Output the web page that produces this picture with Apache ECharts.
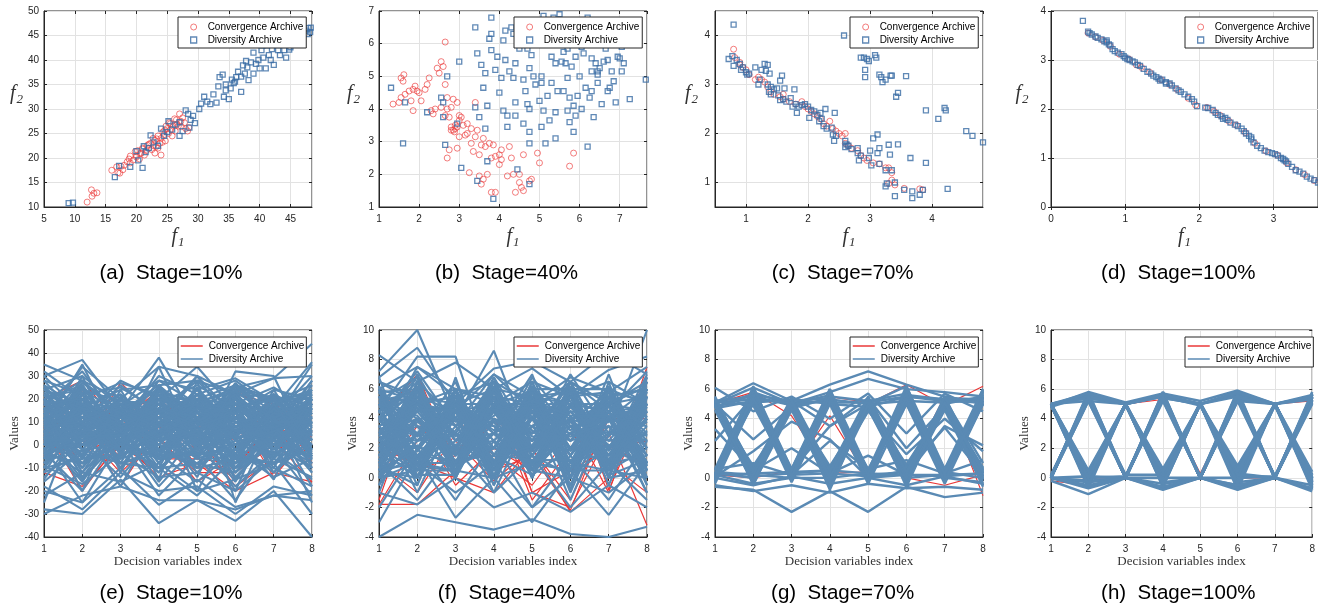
<!DOCTYPE html>
<html>
<head>
<meta charset="utf-8">
<script src="https://cdn.jsdelivr.net/npm/echarts@6.0.0/dist/echarts.min.js"></script>
<style>
html,body{margin:0;padding:0;background:#fff;}
#chart{width:1318px;height:605px;}
</style>
</head>
<body>
<div id="chart"></div>
<script>
// ---------- objective-space samples [f1, f2] ----------
const convA = [[12,11],[12.7,13.5],[12.8,12.2],[13.1,12.8],[13.6,12.9],[16,17.5],[16.8,18.2],[17,17],[17.3,16.9],[17.5,18.3],[18,18.5],[18.5,19.2],[19,20.4],[19,19],[19.5,19.6],[20,20.5],[20.2,21.5],[20.5,19.8],[20.8,21],[21,22],[21.3,20.6],[21.6,21.5],[22,22],[22.3,23],[22.5,21.7],[22.8,22.5],[23,23.6],[23.2,22.3],[23.5,24.5],[23.8,23],[24,20.6],[24,24],[24.3,25.3],[24.5,24.8],[24.7,23.5],[25,26],[25.2,25],[25.5,27],[25.8,24.5],[26,26.5],[26.3,25.5],[26.5,27.8],[26.8,26.5],[27,29],[27.2,27.5],[27.5,28.2],[27.8,27.2],[28,26],[28.3,25.5],[28.5,26.2],[23,21],[23.5,22],[22,22.8],[21,21.8],[20,20.2],[24.8,26.5],[25.3,27.2],[26.2,28],[22.7,24],[19.8,21.3],[18.8,19.8],[21.8,22.6],[24.2,23.2],[25.6,25.8],[26.6,26.9],[27.3,26.4],[24.6,25.7],[23.3,23.9],[20.6,20.9],[17.8,17.6]];
const divA = [[9,10.8],[9.7,10.9],[16.5,16.1],[17.2,18.4],[19,18.2],[20,21.4],[20.3,19.5],[21,18],[21.2,22.4],[21.5,21.2],[22,22],[22.3,24.6],[22.8,23.2],[23.5,22.5],[24,26],[24.5,24.5],[25,25.3],[25.2,27.5],[25.8,25.8],[26.3,26.8],[27,24.5],[27,27.3],[27.5,25.5],[28,29.7],[28.4,29],[28.6,26.2],[29.2,28.6],[29.5,27.1],[28.8,27.8],[30.2,30],[30.5,31.1],[31,32.5],[31.5,31.5],[32,31],[32.5,33],[33,31.3],[33.3,34.6],[33.5,36.5],[34,37],[34.2,32.5],[34.5,35],[35,32],[35.3,34.2],[35.5,36],[35.8,35.3],[36.2,36.5],[36.5,37.6],[37,36.6],[37,33.5],[37.3,38.9],[37.6,37.2],[37.8,39.8],[38,38.5],[38.2,35.9],[38.6,39.5],[39,37.2],[39,41.5],[39.4,39.2],[39.8,40],[40,38.3],[40.3,42],[40.6,40.5],[41,38.3],[41.2,43],[41.5,41],[41.8,40],[42,42.2],[42.3,39],[42.7,44],[43,42],[43.3,41],[43.8,43.2],[44,42],[44.3,40.5],[44.8,42.1],[45,42.6],[47.6,46],[47.9,46.5],[48.2,45.7],[48.3,46.6],[47.8,45.3],[40.5,43],[42,43.3],[36,35.6],[34.5,33.8]];

const convB = [[1.35,4.15],[1.5,4.2],[1.55,4.95],[1.6,4.85],[1.62,5.05],[1.55,4.35],[1.65,4.45],[1.8,4.25],[1.75,4.55],[1.85,4.6],[1.9,4.7],[1.85,3.95],[2.0,4.5],[2.05,4.25],[2.2,4.75],[2.25,4.95],[2.3,3.95],[2.35,3.85],[2.4,4.0],[2.45,5.25],[2.5,5.1],[2.55,5.45],[2.6,5.3],[2.65,6.05],[2.65,4.75],[2.7,4.0],[2.7,4.35],[2.75,3.75],[2.7,2.5],[2.75,2.75],[2.8,4.05],[2.85,3.35],[2.9,3.4],[2.95,3.45],[2.85,4.3],[2.95,4.2],[3.0,3.8],[3.05,3.75],[2.95,2.8],[3.0,3.15],[3.1,3.5],[3.2,3.25],[3.25,2.05],[3.3,2.95],[3.35,2.7],[3.4,3.15],[3.45,3.35],[3.5,1.95],[3.5,2.6],[3.55,1.7],[3.6,1.85],[3.6,3.1],[3.65,2.85],[3.7,2.0],[3.8,1.45],[3.8,2.5],[3.85,2.9],[3.9,2.55],[4.0,2.3],[4.0,2.6],[4.05,2.75],[4.2,1.95],[4.25,2.85],[4.3,2.5],[4.35,2.0],[4.4,1.45],[4.5,1.75],[4.5,2.0],[4.55,1.6],[4.6,1.5],[4.6,2.6],[4.75,1.8],[4.8,1.85],[4.95,2.65],[5.0,2.35],[5.75,2.25],[5.85,2.65],[3.4,4.2],[3.2,3.55],[3.0,3.65],[2.8,3.35],[2.9,3.5],[3.3,3.4],[3.55,2.9],[3.75,2.95],[2.15,4.6],[2.55,4.05],[1.95,4.55],[2.8,3.45],[2.88,3.3],[3.15,3.2],[3.9,1.45],[4.05,2.45],[2.65,3.8]];
const divB = [[1.3,4.65],[1.65,4.2],[1.6,2.95],[2.2,3.9],[2.55,4.35],[2.6,4.2],[2.6,3.75],[2.65,2.9],[2.7,5.0],[2.95,3.55],[3.0,5.45],[3.05,2.2],[3.4,6.5],[3.4,4.05],[3.45,5.7],[3.5,3.75],[3.45,1.8],[3.55,5.35],[3.6,4.65],[3.65,5.1],[3.65,3.4],[3.7,4.1],[3.7,2.4],[3.75,6.15],[3.8,6.8],[3.8,6.3],[3.8,5.8],[3.85,1.25],[3.9,5.2],[3.95,5.6],[4.0,4.5],[4.05,4.95],[4.1,6.1],[4.1,3.95],[4.15,6.4],[4.15,5.5],[4.2,3.8],[4.2,3.45],[4.25,5.15],[4.3,6.5],[4.35,6.3],[4.35,4.95],[4.4,5.4],[4.4,4.2],[4.4,3.8],[4.45,2.15],[4.5,5.85],[4.6,4.9],[4.6,3.55],[4.65,4.55],[4.7,5.85],[4.7,4.15],[4.75,5.25],[4.75,3.3],[4.75,2.95],[4.75,4.0],[4.75,1.7],[4.8,5.65],[4.85,5.0],[4.9,4.75],[5.0,4.25],[5.05,5.0],[5.05,4.8],[5.05,3.45],[5.1,3.95],[5.15,2.95],[5.2,4.4],[5.25,3.65],[5.3,5.6],[5.3,4.8],[5.35,6.8],[5.4,5.4],[5.4,3.9],[5.45,4.55],[5.4,3.1],[5.55,5.45],[5.6,5.75],[5.6,4.55],[5.65,5.4],[5.7,4.95],[5.7,3.95],[5.75,4.35],[5.75,3.6],[5.8,5.3],[5.85,4.1],[5.85,3.3],[5.9,5.6],[5.95,4.4],[6.0,5.0],[6.05,4.0],[6.05,5.9],[6.1,5.7],[6.15,4.65],[6.2,6.8],[6.25,4.35],[6.3,5.55],[6.3,5.15],[6.3,4.55],[6.35,3.75],[6.4,5.4],[6.45,5.05],[6.45,4.8],[6.5,5.25],[6.55,4.15],[6.6,5.45],[6.65,5.85],[6.7,5.5],[6.75,4.65],[6.8,5.15],[6.85,4.85],[6.9,4.2],[6.95,5.6],[7.0,5.55],[7.05,5.15],[7.05,5.9],[7.1,5.4],[7.25,4.3],[7.65,4.9],[6.2,2.85],[5.9,3.8],[5.5,6.9],[5.1,6.85],[6.1,6.5],[5.0,6.5],[4.9,6.2],[6.7,4.55],[6.45,5.15],[5.7,5.85]];

const convC = [[0.8,3.72],[0.82,3.55],[0.9,3.45],[0.95,3.35],[1.0,3.3],[1.05,3.2],[1.2,3.15],[1.25,3.1],[1.3,3.05],[1.35,2.95],[1.4,2.85],[1.45,2.8],[1.55,2.75],[1.6,2.7],[1.7,2.65],[1.8,2.6],[1.9,2.65],[1.95,2.55],[2.0,2.5],[2.05,2.45],[2.1,2.4],[2.15,2.35],[2.2,2.3],[2.25,2.2],[2.3,2.15],[2.35,2.25],[2.4,2.1],[2.45,2.05],[2.5,2.0],[2.55,1.95],[2.6,1.8],[2.65,1.75],[2.7,1.7],[2.8,1.65],[2.85,1.55],[2.9,1.5],[2.95,1.45],[3.05,1.4],[3.15,1.38],[3.25,1.3],[3.3,1.3],[3.35,1.2],[3.35,1.05],[3.3,0.98],[3.4,0.95],[3.55,0.88],[3.8,0.87],[3.85,0.85],[1.6,2.8],[2.6,2.0],[0.9,3.4],[1.15,3.1]];
const divC = [[0.8,4.22],[0.72,3.52],[0.78,3.58],[0.8,3.38],[0.85,3.5],[0.9,3.42],[0.92,3.3],[0.95,3.35],[1.0,3.25],[1.02,3.2],[1.05,3.22],[1.15,3.35],[1.2,3.0],[1.22,3.1],[1.25,3.3],[1.3,3.42],[1.32,3.28],[1.35,3.4],[1.35,3.0],[1.37,2.85],[1.38,3.22],[1.4,2.95],[1.4,2.8],[1.45,2.9],[1.5,2.92],[1.52,2.78],[1.55,3.08],[1.55,2.68],[1.58,3.18],[1.6,2.7],[1.62,2.92],[1.65,2.65],[1.72,2.72],[1.75,2.55],[1.78,2.9],[1.8,2.6],[1.82,2.42],[1.85,2.55],[1.9,2.58],[1.95,2.6],[2.0,2.55],[2.02,2.32],[2.05,2.48],[2.1,2.45],[2.15,2.38],[2.18,2.25],[2.2,2.42],[2.22,2.3],[2.25,2.15],[2.28,2.5],[2.3,2.1],[2.38,2.12],[2.4,1.98],[2.42,1.85],[2.43,2.42],[2.45,1.95],[2.6,1.72],[2.6,1.85],[2.62,1.78],[2.65,1.75],[2.7,1.68],[2.8,1.7],[2.8,1.6],[2.82,1.45],[2.85,3.55],[2.85,1.55],[2.9,3.55],[2.92,3.3],[2.92,3.15],[2.95,3.52],[2.98,1.5],[2.98,3.48],[3.0,1.65],[3.02,1.35],[3.05,1.9],[3.08,3.6],[3.1,3.55],[3.12,1.98],[3.12,1.6],[3.15,1.7],[3.15,1.38],[3.15,3.2],[3.18,3.15],[3.2,3.05],[3.25,3.1],[3.25,1.25],[3.25,0.92],[3.27,0.98],[3.3,1.77],[3.32,1.57],[3.33,3.18],[3.35,3.18],[3.35,1.25],[3.4,1.0],[3.4,0.72],[3.42,2.75],[3.45,2.83],[3.45,1.78],[3.55,0.85],[3.58,3.17],[3.65,1.5],[3.68,0.82],[3.68,0.68],[3.8,0.75],[3.85,0.85],[3.9,1.4],[3.9,2.47],[4.1,2.3],[4.2,2.52],[4.22,2.47],[4.25,0.87],[4.55,2.05],[4.65,1.95],[4.82,1.82],[2.58,4.0]];

const convD = [[0.5,3.55],[0.6,3.47],[0.7,3.4],[0.8,3.28],[0.92,3.12],[1.05,3.02],[1.15,2.9],[1.22,2.85],[1.33,2.75],[1.48,2.6],[1.6,2.5],[1.7,2.4],[1.85,2.22],[1.95,2.08],[2.1,2.03],[2.2,1.95],[2.28,1.87],[2.4,1.75],[2.5,1.67],[2.62,1.52],[2.75,1.3],[2.9,1.14],[3.05,1.06],[3.18,0.9],[3.3,0.76],[3.42,0.66],[3.55,0.54]];
const divD = [[0.43,3.8],[0.5,3.58],[0.52,3.55],[0.55,3.52],[0.6,3.48],[0.63,3.45],[0.68,3.42],[0.72,3.38],[0.75,3.36],[0.78,3.32],[0.8,3.3],[0.83,3.22],[0.86,3.18],[0.9,3.15],[0.95,3.12],[0.98,3.08],[1.0,3.05],[1.03,3.02],[1.06,3.0],[1.1,2.97],[1.13,2.95],[1.17,2.9],[1.2,2.88],[1.25,2.82],[1.3,2.76],[1.35,2.72],[1.38,2.68],[1.42,2.65],[1.45,2.62],[1.5,2.6],[1.55,2.55],[1.6,2.52],[1.63,2.48],[1.68,2.42],[1.72,2.38],[1.75,2.35],[1.8,2.3],[1.85,2.25],[1.9,2.2],[1.93,2.15],[1.97,2.06],[2.08,2.03],[2.12,2.02],[2.18,1.98],[2.22,1.92],[2.25,1.88],[2.3,1.85],[2.35,1.82],[2.38,1.78],[2.42,1.72],[2.48,1.68],[2.52,1.65],[2.57,1.6],[2.6,1.55],[2.63,1.5],[2.67,1.45],[2.7,1.38],[2.73,1.32],[2.78,1.25],[2.83,1.2],[2.88,1.15],[2.93,1.12],[2.98,1.1],[3.02,1.08],[3.06,1.05],[3.1,1.0],[3.13,0.98],[3.17,0.93],[3.2,0.88],[3.25,0.82],[3.3,0.75],[3.35,0.72],[3.4,0.68],[3.45,0.62],[3.5,0.58],[3.55,0.55],[3.6,0.5],[1.47,2.58],[2.7,1.42],[3.15,0.95],[0.75,3.4],[1.55,2.52],[2.32,1.8]];

// ---------- decision-space samples: one row of 8 variables per solution ----------
const varIndex = [1, 2, 3, 4, 5, 6, 7, 8];

const convE = [
  [8,-20,2,-14,-8,-20,-12,-16],[15,14,0,16,-10,-10,10,14],[-5,10,-18,8,-2,-15,5,-10],[20,28,8,20,6,22,18,12],
  [0,-4,5,2,-12,-12,0,4],[10,8,-5,10,4,-18,-6,18],[-12,-18,0,-12,8,6,20,-8],[4,18,12,-6,-6,-8,8,2],
  [12,0,27,12,12,14,-14,6],[-8,6,-12,4,-16,-6,2,-16],[18,-10,10,24,0,24,12,0],[2,24,-8,-2,10,2,16,12]
];
const divE = [
  [35,28,20,12,30,5,18,22],[30,37,15,38,10,25,29,44],[-28,-30,-15,-34,-24,-33,-20,-40],[25,12,28,20,34,15,22,10],
  [-20,-25,-10,-26,-15,-27,-22,-20],[10,20,5,25,0,22,8,15],[5,-10,10,-5,15,-15,5,0],[0,30,-5,26,5,27,10,35],
  [15,-5,20,0,25,-10,15,5],[-10,25,-12,20,-5,18,-8,12],[20,5,15,10,20,0,20,8],[-5,15,0,18,-20,10,0,20],
  [8,35,2,34,-2,32,30,-5],[12,-20,18,-15,28,-25,12,-25],[-15,8,-18,12,-10,5,-15,18],[28,22,25,15,20,26,20,22],
  [2,0,8,5,3,-5,3,5],[-25,18,-8,-10,-22,-5,-10,-18],[18,28,12,25,12,20,5,28],[6,-15,3,-12,8,-20,18,-10],
  [22,10,22,8,30,12,22,2],[-8,5,-2,2,-8,8,-5,10],[3,25,6,28,18,25,12,30],[14,-8,14,-8,12,-12,10,-8],
  [-18,-28,-12,-20,-18,-30,-18,-22],[32,20,27,22,16,18,25,15],[10,12,0,15,6,3,6,12],[-3,-20,5,-18,0,-18,-3,-15],
  [17,32,10,30,22,28,16,36],[0,6,12,-2,10,15,-12,3],[25,-2,18,5,25,2,14,-2],[-12,12,-6,8,-14,20,2,22],
  [7,27,15,24,4,24,20,20],[-22,-12,-16,-8,-20,-15,-8,-30],[12,18,8,12,14,10,9,16],[19,3,21,3,18,-2,18,4],
  [-6,22,2,16,2,12,4,26],[4,-3,6,-2,2,-8,2,-5],[26,16,24,26,28,22,21,12],[-2,9,-10,10,-12,7,-4,6],
  [9,26,4,22,9,26,14,24],[16,-12,13,-10,20,-12,7,-12],[-14,2,-14,6,-6,0,-12,8],[21,24,19,18,26,16,20,18],
  [1,14,0,14,7,14,0,14],[13,-6,16,-3,15,-6,13,-3],[-9,-17,-4,-14,-12,-20,-6,-14],[24,30,17,28,24,29,19,26],
  [6,8,9,4,11,6,11,2],[-30,-22,-18,-24,-24,-28,-22,-24],[11,34,20,34,30,22,29,30],[-4,-8,1,-6,-3,-10,0,-10],
  [30,14,22,6,24,8,17,6],[7,20,4,20,12,18,7,17],[18,2,10,0,16,4,12,10],[-16,-2,-8,-4,-16,-2,-14,-6],
  [3,16,12,12,1,21,4,21],[15,23,7,23,19,23,13,23],[-1,-25,2,-22,-5,-24,-1,-22],[23,7,14,9,22,11,22,9],
  [5,22,-3,20,-2,18,3,20],[18,-2,14,0,17,-4,16,-5],[-3,17,2,24,6,22,8,16],[22,4,20,2,25,6,21,-2],
  [0,20,-8,22,-6,24,-4,18],[14,-10,20,-8,18,-8,10,-12],[-10,10,4,14,-2,16,-6,12],[26,6,18,8,24,4,20,6],
  [4,26,0,20,4,20,6,24],[12,0,16,-4,22,-2,14,2],[-6,18,-4,24,0,20,0,16],[20,-6,24,-2,14,-6,18,-6],
  [2,12,8,16,10,12,4,10],[16,20,6,10,8,24,10,20],[-12,-4,-6,0,-10,-6,-8,-2],[8,2,12,2,4,8,16,0],
  [24,18,10,20,20,14,24,20],[-2,-12,6,-10,4,-14,2,-8],[10,28,14,26,12,22,6,28],[6,-8,0,-4,-4,-2,8,-6],
  [28,10,26,14,28,10,12,14],[-8,20,-10,16,-4,14,-2,20],[12,6,4,8,18,2,14,4],[-4,2,14,-6,8,-10,6,-2],
  [20,26,4,22,14,26,18,24],[3,-16,8,-16,6,-16,10,-18],[16,12,18,4,20,18,0,10],[0,0,2,-6,-4,-4,-8,0],
  [9,16,-2,18,2,20,12,16],[14,-14,8,-12,12,-14,4,-10],
  [12,8,14,6,10,12,8,10],[-4,14,2,10,-6,12,-2,14],[18,12,4,18,14,6,16,8],[6,-4,16,-2,6,-4,10,2],
  [0,10,-6,14,2,16,-2,6],[14,18,10,20,16,18,14,18],[-8,0,6,-2,-8,2,-4,-4],[20,10,16,12,22,8,18,12],
  [2,20,8,2,12,4,2,14],[10,-2,0,12,-4,10,12,-4],[16,4,20,6,8,20,6,16],[-2,16,-4,18,4,8,10,4],
  [8,14,18,4,16,14,-2,20],[4,8,-2,20,0,-6,14,8],[22,16,12,14,18,16,22,14],[-6,6,10,0,-2,4,-6,10],
  [14,2,6,16,12,-2,16,0],[6,24,14,8,20,10,4,22],[-10,-6,0,-10,-8,-12,2,-6],[24,14,6,22,10,20,12,18],
  [0,12,16,10,4,0,6,12],[12,-6,-4,4,14,12,-8,6],[18,20,14,2,6,16,20,2],[-4,4,4,8,18,6,8,-8],
  [8,10,-8,-2,-10,18,0,16],[16,-14,2,-6,-2,-8,18,-4],[2,2,20,14,22,2,-4,20],[10,22,-2,26,-2,26,10,10],
  [20,0,10,-4,10,-4,24,-2],[-2,18,8,16,8,14,-10,18]
];

const convF = [
  [-1.8,-1.8,0.5,4,2,-2.3,0,7.5],[-1.5,6,2,6.5,-1,-2,3,-3.2],[0,3.5,1.8,3.8,1.8,5,2,1],[2,1,0,-1,2.2,4,-1,6.5],
  [4,7,1,5,-1.5,2,2.2,3],[1,-1,3,0.5,1.5,-2.2,4.5,1.5],[3,4,-0.5,2,0.5,6.5,-0.8,5],[-1.8,2.5,4,1.5,-0.5,3,1,-1],
  [5,6,2.5,-0.2,2,-1.5,4,4],[2.5,0.5,1.5,5.5,-1,0.5,2,2.5]
];
const divF = [
  [8.3,6.5,7.8,6.0,7.4,5.5,7.3,8.2],[7.2,10,4.0,8.6,2.0,7.0,3.0,10],[-4,-2.5,-3,-3.5,-2.8,-3.8,-4,-3.3],[6.8,8.8,5.0,7.4,7.9,6.5,8.5,7.0],
  [0.5,6,0.5,6,0.5,6,0.5,6],[5.5,0.5,5.5,0,5.5,0,5.5,0.5],[3,4,1,5,4,3,2,4],[4.5,8.2,8.2,0.5,6.5,1,6,2],
  [1,3,2,2.5,1,4.5,1.5,3],[5,2,4.5,1,6,2,5,1],[2,5.5,3,6.5,0,5.5,2.5,5.5],[-1,-1.8,0,-2,-1,-2.3,-0.5,-2],
  [6,7.5,6,5,6.5,5.5,6.5,5],[0,1,-1,1,-2,0,-1,1],[4,6.5,4,4,3,6.5,5,6.5],[3.5,0,5,3,5,1,4,-1],
  [2.5,4.5,1.5,4,2.5,4,3,4.5],[5.2,6.8,0.2,6.8,0.8,6.2,0.5,6.8],[0.8,-0.5,6.8,-0.5,6.2,-0.8,6.5,-0.5],[1.5,7,2.5,3,7,0.5,7,0.5],
  [4.8,3,6.5,0.5,3.5,5.5,0.5,5],[3.2,5,1,6,1.5,5,1,5.5],[-2,2,-1.5,2.5,-2,1.5,-1.5,2.5],[5.8,2.5,5.8,1.5,5,2.5,6.2,2],
  [2,0.5,3.5,0.5,4,0.5,3.5,0.5],[6.5,5.5,4.5,7,5.5,5.8,5.5,6],[0.3,2.2,0.5,3.8,0.2,3.5,0.8,3.5],[3.8,6,2,5.5,2.5,6.5,2,6],
  [1.2,4.8,0.8,5,1,5,1.2,4.5],[4.2,-1,4.5,-1,4.5,-1.5,4.5,-1],[-3,1.5,-2.7,0,-3,0.5,-2.5,1],[2.8,7.5,5.5,6.5,5,6.8,5.8,7.5],
  [5.5,3.5,3,2,6.8,3.5,4,3.5],[1.8,5.8,2.5,4.5,3.5,4.5,2,5],[0,6.5,1,6.2,0,5.8,0,6.5],[6,0,6,1,6,1.5,6,0],
  [3,2.5,4,3.5,2,3,3.5,2.5],[4.5,1.5,3,0,4,2,4.5,1.5],[2.2,3.5,0,4.8,0.5,4.2,0.2,4.2],[5,5.5,5,6,5.5,5,5,5.5],
  [0.5,1,1,2,1.5,0.2,2,0.8],[3.5,4.5,5,5,3,4.8,2.8,6],[1,-1.5,2,-1,1.5,-2,1,-1.5],[4,7.2,3.5,7,4.5,6.5,4.5,7.2],
  [2.5,2,6,1.5,6,2,6,1.5],[5.5,4,0.5,4.5,0.5,4,0.5,4],[-0.5,3,0.5,3,2.5,3.5,2.5,3],[3,5,3.5,4.5,4,5.5,4,5],
  [6.2,1.8,5.2,2.5,5.2,1,5.2,2.5],[1.5,5.2,2.8,5.8,1.8,6,1.5,6],
  [5.5,0.5,6,0.5,5.5,0.5,6,0.5],[0.5,6.5,0,6,0.5,6.5,0.5,6],[6,1,5,1,6.5,0,5.5,1],[1,5.5,0.5,5.5,0,5,1,5.5],
  [5,-0.5,5.5,0,5,-0.5,5.5,0],[-0.5,6,1,6.5,1,5.5,0,6.5],[4.5,1.5,4.5,1.5,4.5,1.5,4.5,1.5],[1.5,4.5,1.5,4.5,1.5,4.5,1.5,4.5],
  [6.5,5,6,5.5,5,6,6,5],[0,0.5,0.5,0,1,0.5,0.5,0],[5.8,6,0.5,5.8,0.5,0,5.5,6],[0.5,0,5.5,0.5,6,6,0,0.5],
  [3,6,0,6,0,6,0,6],[6,0,6,0,6,0,6,0],[4,0.5,6,1,5,0,4.5,1],[1,5,2,6.5,1.5,5.5,2,6.5],
  [5.2,2,5.5,2,6,1.5,5.5,2.5],[2.5,6,0.5,5,0.5,5,0.5,5],[0.2,1.5,1.2,1.5,0.2,2,1,1.5],[5.5,5,4.5,5,5.8,5,4.5,4.8],
  [6.8,0,5,-0.5,5.5,-1,5,-0.5],[-1,5.5,0,5,0,6,-0.5,5.5],[4,6.8,0.8,6,2,6.2,1,6.8],[2,0,5,0,5.8,0,5.5,0],
  [0.5,5,5.5,1,5.5,1,0.5,5],[5.5,0.8,0.5,5.5,0.5,5.5,5.8,0.8],[3.5,5.2,1,4,0.8,5,0.5,4.5],[5,2.8,5.2,0.8,4.2,0.5,5.8,1],
  [1.2,6.2,2,6.8,2.5,6.5,1.8,7],[6.2,0.5,4,0,4.8,-0.5,4,0.5],
  [4,3,5,2,4,3,5,2],[2,4,1,4,2,5,2,3],[5,2,2,5,5,1,3,5],[1,4,4,1,2,4,5,1],
  [3.5,0.5,2.5,5.5,1.5,5.5,1,4],[0.5,3,5.5,2.5,5.5,2,4.5,1.5],[4.5,5.5,3,0.5,3.5,0.5,5,4.5],[2.5,1,0.5,3,0.5,3.5,0.5,2],
  [5.5,3,4,4.5,5,4,1.5,5.5],[0,2.5,3,1,3.5,2.5,3.5,0],[3,5,5.5,3,0.5,3,5.5,3],[6,3.5,1,5,4,5.5,2,5],
  [1.5,0.5,4.5,2,5.5,1,3,2.5],[4.8,6,2.5,6,3,4.5,4,6],[2.8,2,5,3.5,1,0.5,6,1],[0.8,5,3.5,5.2,2,6,0.8,4.8],
  [5,4.2,1.5,3,4.5,3.8,0.5,3.2],[3.2,0.8,6,0.8,4,0,4.2,0.5],[1.8,6.2,0.8,2,6,2.5,5,6.2],[4.2,1.5,3.2,6.2,0.8,4.8,2.2,3],
  [0.2,4,2.2,4.2,5.8,1.8,4.8,2],[5.8,1.2,4.8,1.2,2.2,5.8,1.2,5.8],[2.2,5.8,0.2,5.8,2.8,2.8,3.8,4.2],[3.8,2.8,5.8,0.2,4.8,5.2,0.2,1.2],
  [6,5.2,3.8,3.8,0.2,3.8,5.8,5.2],[1,3.8,1.8,6,3.2,0.8,2.8,5.8],[4.6,0.2,0.2,4.6,5.2,4.2,4.2,0.8],[2.6,4.6,4.6,1.6,1.2,1.2,1.6,3.8],
  [0.6,1.8,5.2,3.2,6.2,3.2,5.2,2.8],[5.2,5.8,1.6,5.4,1.8,5,0.6,5.4]
];

const convG = [
  [5.0,5.8,4.2,0.2,5.0,6.3,4.9,6.2],[0.2,0.0,0.5,4.2,0.0,0.5,5.5,-1.2],[4.9,0.3,5.0,0.3,0.4,5.6,0.5,5.3],[0.3,5.4,0.1,5.5,5.1,0.0,-0.5,0.2]
];
const divG = [
  [5.1,0.2,5.0,0.1,5.2,0.3,4.9,0.2],[4.9,-0.1,4.8,-0.3,5.0,0.0,5.1,-0.2],[5.0,0.4,5.1,0.5,4.9,0.6,5.0,0.4],[0.1,5.6,0.0,5.4,0.2,5.8,0.1,5.3],
  [-0.2,5.9,0.3,5.2,-0.1,6.1,0.3,5.5],[0.3,5.3,-0.2,5.6,0.3,5.5,-0.3,5.1],[5.2,5.5,4.9,5.3,5.0,5.2,5.1,5.4],[0.0,-0.5,0.1,-0.4,0.0,-0.5,0.1,-0.4],
  [5.0,0.1,0.3,5.5,0.2,0.4,5.2,0.0],[0.2,5.8,4.9,0.0,5.0,6.2,0.1,5.5],[4.8,5.7,0.2,0.3,4.9,0.0,0.2,5.2],[0.4,0.0,5.0,5.6,0.1,5.6,5.3,0.3],
  [5.1,6.4,5.2,6.3,7.2,6.3,5.5,5.0],[5.0,6.1,5.0,5.8,6.7,6.0,5.8,5.5],[-0.6,-0.8,-2.3,-0.9,-2.3,-0.6,-1.3,-1.0],[-0.5,-0.9,-0.5,-1.0,-0.4,-0.7,-0.6,-0.8],
  [6.1,4.5,5.5,4.0,5.7,3.0,5.7,4.5],[3.3,0.5,2.0,0.3,1.5,0.2,3.5,2.2],[5.0,2.6,4.8,0.2,4.5,1.6,4.0,1.8],[0.1,1.8,3.8,2.6,0.0,0.5,3.4,0.2],
  [2.5,5.5,0.5,3.5,5.0,0.3,5.3,1.0],[5.2,0.0,5.4,0.3,0.1,5.4,0.4,5.6],[0.0,5.5,0.2,5.5,5.2,0.4,5.0,0.1],[5.3,0.6,5.0,5.2,0.2,5.3,0.0,5.0],
  [0.2,0.3,0.4,0.5,0.3,0.2,0.1,0.3],[4.9,5.1,5.3,5.0,4.8,5.5,5.3,5.2],[0.5,5.6,0.0,5.7,0.4,5.3,0.5,5.6],[5.0,-0.3,5.2,-0.6,5.1,-0.4,4.8,-0.5],
  [0.0,6.0,0.2,5.5,-0.2,5.9,0.0,5.4],[5.1,0.3,4.9,0.0,5.3,0.1,5.0,0.0],[4.8,5.6,0.5,5.5,0.2,5.8,0.3,5.7],[0.3,0.0,5.1,0.2,5.0,0.1,5.2,-0.1],
  [5.2,0.2,4.7,5.4,0.0,0.2,5.4,5.3],[-0.1,5.3,0.3,0.5,5.2,5.7,0.4,0.0],[0.6,1.0,0.2,2.5,0.6,1.2,0.3,1.2],[4.7,5.2,5.2,3.5,5.4,2.0,4.8,0.6],
  [5.0,0.4,5.3,0.0,5.4,-0.2,5.1,0.5],[0.1,5.7,-0.1,5.2,0.1,5.6,0.2,5.8],[5.3,-0.5,5.0,-0.2,4.7,0.0,5.2,-0.4],[-0.3,5.4,0.1,5.9,0.4,6.0,-0.2,5.5],
  [4.9,0.1,5.1,0.3,5.0,0.5,5.1,0.3],[0.2,5.9,0.0,5.5,0.1,5.3,0.3,5.9],[5.1,0.5,4.9,-0.3,5.2,0.3,4.9,-0.1],[0.0,5.2,0.3,5.7,-0.1,5.9,0.2,5.4],
  [5.4,0.6,5.4,0.6,5.5,0.7,5.3,0.5],[4.6,-0.4,4.6,-0.6,4.7,-0.3,4.6,-0.5],[-0.4,5.2,-0.3,5.0,-0.4,5.0,-0.4,5.0],[0.6,6.1,0.6,6.0,0.5,6.2,0.6,6.0],
  [5.2,0.0,5.0,0.6,5.0,-0.1,5.4,0.1],[0.3,5.0,0.4,5.3,0.0,5.4,0.0,5.2],[4.8,0.8,4.7,0.2,4.8,0.2,4.7,0.6],[0.0,5.8,0.6,5.8,0.2,5.0,0.4,5.0],
  [5.1,5.3,5.1,0.2,5.0,0.0,5.0,5.5],[0.2,-0.4,0.0,5.3,0.3,5.2,0.0,-0.3],[5.0,0.2,0.0,0.0,5.1,5.5,5.2,5.1],[0.0,5.6,5.2,5.4,0.2,0.2,0.2,0.3],
  [5.5,0.3,5.3,0.4,5.4,0.2,5.5,0.3],[-0.2,5.6,-0.2,5.6,-0.3,5.7,-0.3,5.8],[4.9,0.5,4.9,0.8,4.8,0.9,4.9,0.7],[0.5,5.4,0.5,5.2,0.6,5.1,0.6,5.2],
  [5.0,-0.2,5.1,-0.8,5.0,-0.6,5.1,-0.6],[0.1,6.2,0.1,6.0,0.1,6.1,0.2,6.0],[5.2,4.9,0.1,5.1,5.1,0.4,5.1,0.4],[0.4,0.2,5.2,0.0,0.3,5.4,0.3,5.4]
];

const convH = [
  [5.0,0.0,5.0,5.3,0.3,5.2,5.0,0.0],[-0.2,-0.5,0.0,-0.8,0.0,0.0,5.0,5.2],[4.8,0.0,0.0,5.5,5.0,0.0,0.0,5.5],[0.0,5.6,5.0,-0.3,5.0,5.6,5.0,-0.5]
];
const divH = [
  [4.9,0.0,5.0,-0.2,5.0,-0.1,5.0,-0.3],[5.0,-0.3,5.0,-0.5,5.0,-0.4,4.9,-0.6],[0.1,5.5,0.0,5.6,0.0,5.5,0.0,5.4],[0.0,5.7,0.1,5.4,0.1,5.8,0.0,5.6],
  [0.2,5.3,0.0,5.7,0.0,5.3,0.1,5.2],[4.8,5.6,5.0,5.5,5.0,5.6,5.0,5.3],[0.0,-0.6,0.0,-0.7,0.0,-0.6,0.0,-0.8],[5.0,0.0,0.1,5.5,0.0,0.0,5.0,0.0],
  [0.1,5.4,5.0,0.0,5.0,5.7,0.0,5.5],[5.0,5.6,0.0,0.0,5.0,0.0,0.1,5.4],[0.0,0.1,5.0,5.6,0.0,5.5,5.0,0.0],[4.9,5.8,5.1,5.7,5.2,5.9,5.0,5.6],
  [-0.2,-1.1,0.0,-0.8,0.0,-0.8,0.0,-0.9],[5.0,0.3,4.9,0.6,5.0,0.8,5.0,0.0],[0.0,5.2,0.2,0.2,5.0,0.3,0.0,5.0],[5.0,-0.2,5.0,5.5,0.0,5.6,0.0,5.5],
  [0.1,5.5,0.0,5.5,4.9,0.0,5.0,-0.2],[4.9,-0.5,5.0,-0.3,0.0,5.4,0.0,5.6],[0.0,5.6,5.0,5.5,5.0,-0.5,5.0,5.5],[5.0,5.4,0.0,5.3,0.0,5.2,5.0,-0.5],
  [4.9,0.0,5.0,0.0,5.0,0.0,5.0,0.0],[0.0,5.5,0.0,5.5,0.0,5.5,0.0,5.5],[5.0,-0.4,5.0,-0.3,5.0,-0.6,5.0,-0.4],[0.1,5.4,0.0,5.6,0.0,5.4,0.0,5.7],
  [5.0,0.2,5.0,0.1,5.1,0.3,5.0,-0.1],[0.0,5.7,0.0,5.7,0.0,5.6,0.0,5.3],[5.0,-0.1,4.9,-0.1,5.0,-0.2,5.0,-0.7],[0.0,5.3,0.1,5.3,0.0,5.7,0.0,5.5],
  [5.0,5.2,5.0,0.0,0.0,5.3,5.0,0.0],[0.0,-0.2,0.0,5.4,5.0,-0.3,0.0,5.6],[0.0,-0.7,0.0,-0.4,0.0,-0.7,0.0,-0.5],[5.0,5.5,5.0,5.6,5.0,5.7,5.0,5.4],
  [4.9,0.1,5.0,-0.5,5.0,0.1,5.0,-0.2],[0.0,5.6,0.0,5.3,0.0,5.8,0.0,5.3],[5.0,-0.6,5.0,0.0,5.0,-0.5,5.0,-0.6],[0.1,5.4,0.0,5.8,0.0,5.5,0.0,5.6],
  [5.0,0.4,5.0,0.3,5.0,0.5,5.0,0.2],[0.0,5.2,0.0,5.2,0.0,5.2,0.0,5.1],[5.0,-0.7,5.0,-0.6,5.0,-0.8,5.0,-0.8],[0.0,5.8,0.0,5.8,0.0,5.9,0.0,5.6],
  [4.9,0.2,4.9,0.0,5.0,0.0,4.9,0.2],[0.1,5.3,0.1,5.4,0.1,5.4,0.1,5.4],[5.0,-0.2,5.0,-0.6,5.0,-0.3,5.0,-0.3],[0.0,5.5,0.0,5.7,0.0,5.7,0.0,5.5],
  [5.0,5.4,5.0,-0.3,5.0,5.5,5.0,-0.4],[0.0,-0.3,0.0,5.6,0.0,-0.5,0.0,5.4],[5.0,0.1,0.0,5.4,5.0,0.2,0.0,5.3],[0.0,5.5,5.0,-0.4,0.0,5.4,5.0,-0.3],
  [5.0,0.5,5.0,0.4,5.0,0.6,5.0,0.4],[0.0,5.6,0.0,5.5,0.0,5.6,0.0,5.7],[5.0,-0.5,5.0,-0.2,5.0,-0.4,5.0,-0.5],[0.0,5.4,0.0,5.6,0.0,5.3,0.0,5.2],
  [5.0,5.7,5.0,5.6,5.0,5.8,5.0,5.5],[0.0,-0.5,0.0,-0.6,0.0,-0.5,0.0,-0.7],[4.9,0.0,5.0,-0.4,5.0,0.4,5.0,-0.2],[0.1,5.5,0.0,5.4,0.0,5.6,0.0,5.8]
];

// ---------- text ----------
const captions = ['(a)  Stage=10%', '(b)  Stage=40%', '(c)  Stage=70%', '(d)  Stage=100%',
                  '(e)  Stage=10%', '(f)  Stage=40%', '(g)  Stage=70%', '(h)  Stage=100%'];
const legendText = {
  'conv-pts': 'Convergence Archive', 'div-pts': 'Diversity Archive',
  'conv-lines': 'Convergence Archive', 'div-lines': 'Diversity Archive'
};

// ---------- layout & styling ----------
const RED_PT = 'rgba(236,64,64,0.85)';
const BLUE_PT = '#386ca4';
const RED_LN = '#ea3838';
const BLUE_LN = '#5a8ab4';
const AX = '#262626';
const GRID = '#e2e2e2';
const SANS = '"Liberation Sans", Arial, sans-serif';
const SERIF = '"Liberation Serif", "Times New Roman", serif';

const colLeft = [44, 379, 715, 1051];
const capX = [171, 506.5, 842.6, 1178.3];
const legLeft = [178, 514, 850, 1185];

// per panel: axis ranges [min, max, interval], gap for the y title, line width of the traces
const panels = [
  {x: [5, 48.5, 5], y: [10, 50, 5], yGap: 21, hideXMax: true},
  {x: [1, 7.68, 1], y: [1, 7, 1], yGap: 19, hideXMax: true},
  {x: [0.5, 4.82, null], y: [0.5, 4.5, null], yGap: 17, hideXMax: true, hideXMin: true, hideYMin: true, hideYMax: true},
  {x: [0, 3.6, 1], y: [0, 4, 1], yGap: 22.5, hideXMax: true},
  {x: [1, 8, 1], y: [-40, 50, 10], yGap: 20.5, lw: 2.1},
  {x: [1, 8, 1], y: [-4, 10, 2], yGap: 15, lw: 2.1},
  {x: [1, 8, 1], y: [-4, 10, 2], yGap: 16, lw: 2.4},
  {x: [1, 8, 1], y: [-4, 10, 2], yGap: 18, lw: 2.6}
];

const subRich = {
  f: {fontFamily: SERIF, fontStyle: 'italic', fontSize: 20, lineHeight: 20, color: '#333', verticalAlign: 'top'},
  s: {fontFamily: SERIF, fontStyle: 'italic', fontSize: 13, lineHeight: 13, color: '#333', verticalAlign: 'top', padding: [9, 0, 0, 1]}
};

const grids = [], xAxes = [], yAxes = [];
panels.forEach((p, k) => {
  const top = k < 4 ? 11 : 330;
  const h = k < 4 ? 196 : 207;
  grids.push({left: colLeft[k % 4], top: top, width: 268, height: h, show: true,
              borderColor: AX, borderWidth: 1, backgroundColor: '#fff'});
  const lbl = {fontSize: 10, color: AX, fontFamily: SANS};
  const xa = {type: 'value', gridIndex: k, min: p.x[0], max: p.x[1],
    axisLine: {show: true, onZero: false, lineStyle: {color: AX}},
    axisTick: {show: true, inside: true, length: 3, lineStyle: {color: AX}},
    axisLabel: Object.assign({margin: 7, showMaxLabel: !p.hideXMax, showMinLabel: !p.hideXMin}, lbl),
    splitLine: {show: true, lineStyle: {color: GRID}},
    nameLocation: 'middle'};
  const ya = {type: 'value', gridIndex: k, min: p.y[0], max: p.y[1],
    axisLine: {show: true, onZero: false, lineStyle: {color: AX}},
    axisTick: {show: true, inside: true, length: 3, lineStyle: {color: AX}},
    axisLabel: Object.assign({margin: 5, showMaxLabel: !p.hideYMax, showMinLabel: !p.hideYMin}, lbl),
    splitLine: {show: true, lineStyle: {color: GRID}},
    nameLocation: 'middle'};
  if (p.x[2] != null) xa.interval = p.x[2];
  if (p.y[2] != null) ya.interval = p.y[2];
  if (k < 4) {
    xa.name = '{f|f}{s|1}';
    xa.nameGap = 20;
    xa.nameTextStyle = {rich: subRich};
    ya.name = '{f|f}{s|2}';
    ya.nameRotate = 0;
    ya.nameGap = p.yGap;
    ya.nameTextStyle = {rich: subRich, padding: [0, 0, 30, 0]};
  } else {
    xa.name = 'Decision variables index';
    xa.nameGap = 18;
    xa.nameTextStyle = {fontFamily: SERIF, fontSize: 13, color: '#333'};
    ya.name = 'Values';
    ya.nameGap = p.yGap;
    ya.nameTextStyle = {fontFamily: SERIF, fontSize: 13, color: '#333'};
  }
  xAxes.push(xa);
  yAxes.push(ya);
});
// mirrored ticks on the top and right edges of each box
panels.forEach((p, k) => {
  const tx = {type: 'value', gridIndex: k, position: 'top', min: p.x[0], max: p.x[1],
    axisLine: {show: false}, axisLabel: {show: false}, splitLine: {show: false},
    axisTick: {show: true, inside: true, length: 3, lineStyle: {color: AX}}};
  const ty = {type: 'value', gridIndex: k, position: 'right', min: p.y[0], max: p.y[1],
    axisLine: {show: false}, axisLabel: {show: false}, splitLine: {show: false},
    axisTick: {show: true, inside: true, length: 3, lineStyle: {color: AX}}};
  if (p.x[2] != null) tx.interval = p.x[2];
  if (p.y[2] != null) ty.interval = p.y[2];
  xAxes.push(tx);
  yAxes.push(ty);
});

const series = [];
function addPoints(conv, div, k) {
  series.push({type: 'scatter', name: 'conv-pts', xAxisIndex: k, yAxisIndex: k, data: conv,
    symbol: 'circle', symbolSize: 6, silent: true,
    itemStyle: {color: 'rgba(0,0,0,0)', borderColor: RED_PT, borderWidth: 1}});
  series.push({type: 'scatter', name: 'div-pts', xAxisIndex: k, yAxisIndex: k, data: div,
    symbol: 'rect', symbolSize: 5, silent: true,
    itemStyle: {color: 'rgba(0,0,0,0)', borderColor: BLUE_PT, borderWidth: 1.3}});
}
function addLines(conv, div, k) {
  const w = panels[k].lw;
  conv.forEach(row => series.push({type: 'line', name: 'conv-lines', xAxisIndex: k, yAxisIndex: k,
    data: varIndex.map((v, i) => [v, row[i]]), symbol: 'none', silent: true, color: RED_LN,
    lineStyle: {color: RED_LN, width: 1.2}}));
  div.forEach(row => series.push({type: 'line', name: 'div-lines', xAxisIndex: k, yAxisIndex: k,
    data: varIndex.map((v, i) => [v, row[i]]), symbol: 'none', silent: true, color: BLUE_LN,
    lineStyle: {color: BLUE_LN, width: w}}));
}
addPoints(convA, divA, 0);
addPoints(convB, divB, 1);
addPoints(convC, divC, 2);
addPoints(convD, divD, 3);
addLines(convE, divE, 4);
addLines(convF, divF, 5);
addLines(convG, divG, 6);
addLines(convH, divH, 7);

const hiddenMarker = {color: 'rgba(0,0,0,0)', borderWidth: 0, opacity: 0};
const legends = [];
for (let k = 0; k < 8; k++) {
  const pts = k < 4;
  legends.push({
    left: legLeft[k % 4], top: pts ? 17 : 337, orient: 'vertical', selectedMode: false,
    itemGap: 3, itemWidth: pts ? 6 : 22, itemHeight: pts ? 6 : 10,
    padding: pts ? [5, 3, 3, 12] : [4, 2, 3, 2],
    backgroundColor: '#fff', borderColor: AX, borderWidth: 1, borderRadius: 0,
    textStyle: {fontSize: 10, lineHeight: 10, fontFamily: SANS, color: '#000', padding: pts ? [0, 0, 0, 6] : [0, 0, 0, 1]},
    formatter: name => legendText[name],
    data: pts ? [
      {name: 'conv-pts', icon: 'circle', itemStyle: {color: 'rgba(0,0,0,0)', borderColor: RED_PT, borderWidth: 1}},
      {name: 'div-pts', icon: 'rect', itemStyle: {color: 'rgba(0,0,0,0)', borderColor: BLUE_PT, borderWidth: 1.3}}
    ] : [
      {name: 'conv-lines', itemStyle: hiddenMarker, lineStyle: {color: RED_LN, width: 1.5}},
      {name: 'div-lines', itemStyle: hiddenMarker, lineStyle: {color: BLUE_LN, width: 1.5}}
    ]
  });
}

const graphics = captions.map((t, i) => ({
  type: 'text', x: capX[i % 4], y: i < 4 ? 273 : 593.5, silent: true,
  style: {text: t, fontSize: 20.5, fontFamily: SANS, fill: '#000', align: 'center', verticalAlign: 'middle'}
}));

const chart = echarts.init(document.getElementById('chart'), null, {renderer: 'canvas'});
chart.setOption({
  animation: false,
  backgroundColor: '#fff',
  grid: grids,
  xAxis: xAxes,
  yAxis: yAxes,
  legend: legends,
  series: series,
  graphic: graphics
});
</script>
</body>
</html>
